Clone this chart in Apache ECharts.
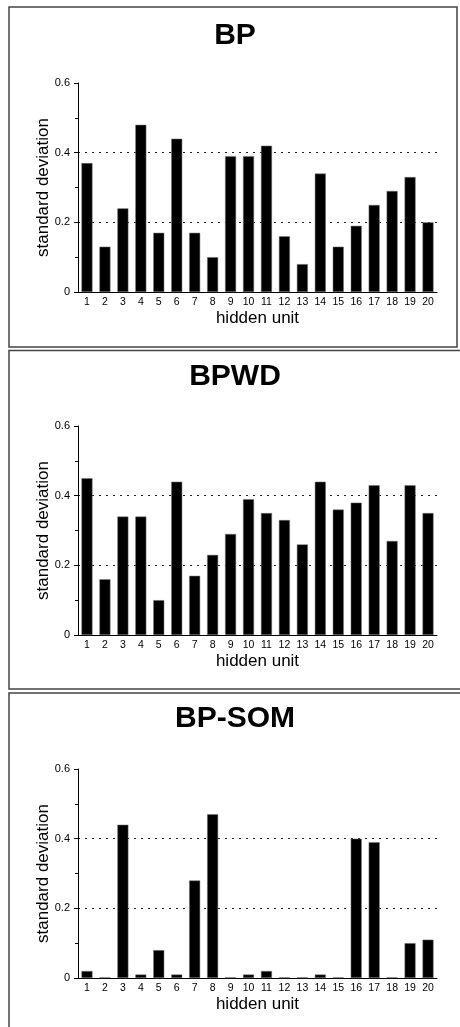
<!DOCTYPE html>
<html>
<head>
<meta charset="utf-8">
<script src="https://cdn.jsdelivr.net/npm/echarts@6/dist/echarts.min.js"></script>
<style>
  html, body { margin: 0; padding: 0; background: #fff; }
  #chart { width: 460px; height: 1027px; }
</style>
</head>
<body>
<div id="chart"></div>
<script>
const units = ["1", "2", "3", "4", "5", "6", "7", "8", "9", "10",
  "11", "12", "13", "14", "15", "16", "17", "18", "19", "20"];
const panelTitles = ["BP", "BPWD", "BP-SOM"];
const bpValues = [0.37, 0.13, 0.24, 0.48, 0.17, 0.44, 0.17, 0.10, 0.39, 0.39,
  0.42, 0.16, 0.08, 0.34, 0.13, 0.19, 0.25, 0.29, 0.33, 0.20];
const bpwdValues = [0.45, 0.16, 0.34, 0.34, 0.10, 0.44, 0.17, 0.23, 0.29, 0.39,
  0.35, 0.33, 0.26, 0.44, 0.36, 0.38, 0.43, 0.27, 0.43, 0.35];
const bpsomValues = [0.02, 0.002, 0.44, 0.01, 0.08, 0.01, 0.28, 0.47, 0.002, 0.01,
  0.02, 0.002, 0.002, 0.01, 0.002, 0.40, 0.39, 0.002, 0.10, 0.11];
const yTicks = [0, 0.2, 0.4, 0.6];

const font = "'Liberation Sans', Arial, sans-serif";
const allValues = [bpValues, bpwdValues, bpsomValues];
const gridTops = [83, 426, 769];
const titleTops = [21, 362, 704];

const chart = echarts.init(document.getElementById("chart"));

const option = {
  animation: false,
  backgroundColor: "#fff",
  title: panelTitles.map((t, i) => ({
    text: t,
    left: 235,
    top: titleTops[i],
    textAlign: "center",
    padding: 0,
    textStyle: { fontFamily: font, fontSize: 30, fontWeight: "bold", color: "#000" }
  })),
  grid: gridTops.map(top => ({ left: 78, top: top, width: 359, height: 209 })),
  xAxis: gridTops.map((_, i) => ({
    type: "category",
    gridIndex: i,
    data: units,
    name: "hidden unit",
    nameLocation: "middle",
    nameGap: 18,
    nameMoveOverlap: false,
    nameTextStyle: { fontFamily: font, fontSize: 17, color: "#000" },
    axisLine: { lineStyle: { color: "#000", width: 1 } },
    axisTick: { length: 4, lineStyle: { color: "#000" } },
    axisLabel: { fontFamily: font, fontSize: 10.5, color: "#000", margin: 5, interval: 0 }
  })),
  yAxis: gridTops.map((_, i) => ({
    type: "value",
    gridIndex: i,
    min: yTicks[0],
    max: yTicks[yTicks.length - 1],
    interval: 0.2,
    name: "standard deviation",
    nameLocation: "middle",
    nameGap: 26,
    nameMoveOverlap: false,
    nameTextStyle: { fontFamily: font, fontSize: 17, color: "#000" },
    axisLine: { show: true, lineStyle: { color: "#000", width: 1 } },
    axisTick: { show: true, length: 4, lineStyle: { color: "#000" } },
    minorTick: { show: true, splitNumber: 2, length: 3, lineStyle: { color: "#000" } },
    axisLabel: {
      fontFamily: font, fontSize: 11, color: "#000", margin: 8,
      formatter: v => (v === 0 ? "0" : v.toFixed(1))
    },
    splitLine: {
      show: true,
      showMinLine: false,
      showMaxLine: false,
      lineStyle: { color: "#222", type: [2, 5], width: 1 }
    }
  })),
  series: allValues.map((vals, i) => ({
    type: "bar",
    xAxisIndex: i,
    yAxisIndex: i,
    data: vals,
    barWidth: 11,
    itemStyle: { color: "#000", borderColor: "#777", borderWidth: 0.5 }
  })),
  graphic: [
    { type: "rect", shape: { x: 9, y: 7, width: 448, height: 340 },
      style: { fill: null, stroke: "#444", lineWidth: 1.5 } },
    { type: "rect", shape: { x: 9, y: 350.5, width: 460, height: 338.5 },
      style: { fill: null, stroke: "#444", lineWidth: 1.5 } },
    { type: "rect", shape: { x: 9, y: 693, width: 460, height: 340 },
      style: { fill: null, stroke: "#444", lineWidth: 1.5 } }
  ]
};

chart.setOption(option);
</script>
</body>
</html>
